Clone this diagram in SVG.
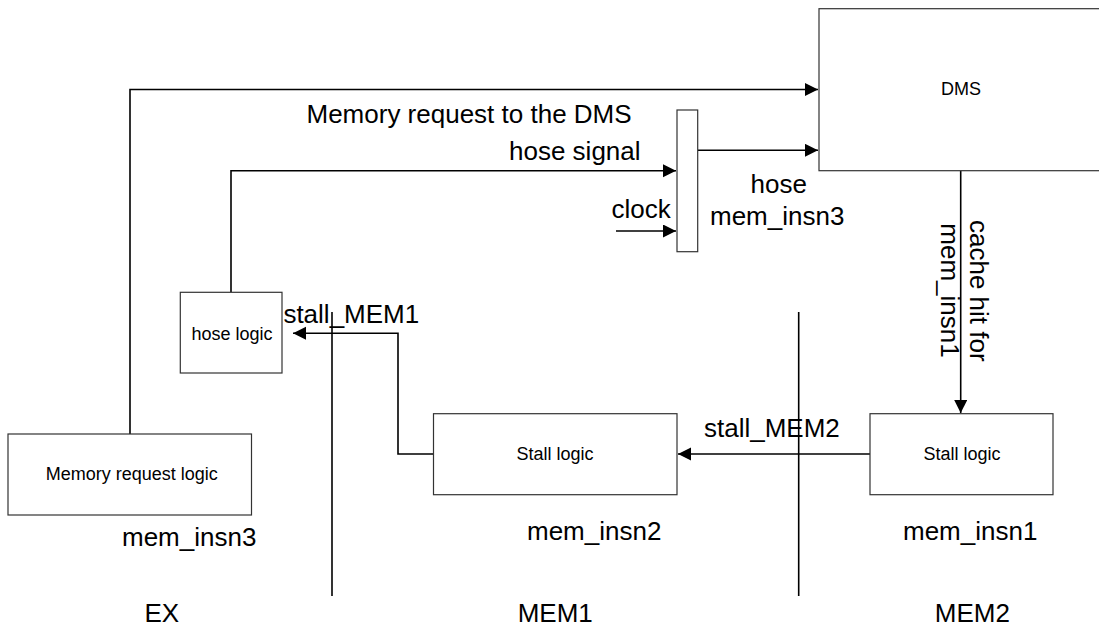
<svg xmlns="http://www.w3.org/2000/svg" width="1099" height="630" viewBox="0 0 1099 630">
<style>
.box{fill:#fff;stroke:#333;stroke-width:1.2}
.wire{fill:none;stroke:#000;stroke-width:1.6}
.big{font-family:"Liberation Sans",Arial,sans-serif;font-size:26px;fill:#000}
.small{font-family:"Liberation Sans",Arial,sans-serif;font-size:18px;fill:#000}
.mid{text-anchor:middle}
</style>
<defs>
<marker id="arr" markerUnits="userSpaceOnUse" markerWidth="14" markerHeight="14" refX="13" refY="6.5" orient="auto">
<path d="M0,0 L13,6.5 L0,13 z" fill="#000"/>
</marker>
</defs>
<rect width="1099" height="630" fill="#fff"/>

<g id="connectors">
<polyline class="wire" points="130,434 130,89.5 818,89.5" marker-end="url(#arr)"/>
<polyline class="wire" points="231,292 231,170.7 676,170.7" marker-end="url(#arr)"/>
<line class="wire" x1="616" y1="231" x2="676" y2="231" marker-end="url(#arr)"/>
<line class="wire" x1="698" y1="150.3" x2="818" y2="150.3" marker-end="url(#arr)"/>
<line class="wire" x1="960.7" y1="170.5" x2="960.7" y2="413" marker-end="url(#arr)"/>
<line class="wire" x1="870" y1="454" x2="678" y2="454" marker-end="url(#arr)"/>
<polyline class="wire" points="433,454 398,454 398,333.3 293,333.3" marker-end="url(#arr)"/>
</g>

<g id="dividers">
<line class="wire" x1="332" y1="312" x2="332" y2="596"/>
<line class="wire" x1="798.7" y1="312" x2="798.7" y2="596"/>
</g>

<g id="dms">
<rect class="box" x="819" y="8.7" width="290" height="162"/>
<text class="small mid" x="961" y="95">DMS</text>
</g>

<g id="latch">
<rect class="box" x="677" y="110" width="20.7" height="141.7"/>
</g>

<g id="hose-logic">
<rect class="box" x="180.3" y="292.3" width="101.7" height="80.7"/>
<text class="small mid" x="232" y="340">hose logic</text>
</g>

<g id="memory-request-logic">
<rect class="box" x="8" y="434" width="243.5" height="81"/>
<text class="small mid" x="131.7" y="480">Memory request logic</text>
</g>

<g id="stall-logic-mem1">
<rect class="box" x="433.5" y="413.7" width="243.5" height="81"/>
<text class="small mid" x="555" y="460">Stall logic</text>
</g>

<g id="stall-logic-mem2">
<rect class="box" x="870" y="413.7" width="183" height="81"/>
<text class="small mid" x="962" y="460">Stall logic</text>
</g>

<g id="labels">
<text class="big" x="306.5" y="123.3">Memory request to the DMS</text>
<text class="big" x="509" y="160">hose signal</text>
<text class="big" x="611.4" y="218.3">clock</text>
<text class="big" x="750.6" y="192.7">hose</text>
<text class="big" x="710" y="225">mem_insn3</text>
<text class="big" transform="translate(970,220) rotate(90)">cache hit for</text>
<text class="big" transform="translate(940.5,223.3) rotate(90)">mem_insn1</text>
<text class="big" x="283.4" y="322.7">stall_MEM1</text>
<text class="big" x="704" y="436.7">stall_MEM2</text>
<text class="big" x="122" y="545.7">mem_insn3</text>
<text class="big" x="527" y="540">mem_insn2</text>
<text class="big" x="903" y="540">mem_insn1</text>
<text class="big" x="144.5" y="621.7">EX</text>
<text class="big" x="517.7" y="621.7">MEM1</text>
<text class="big" x="934.8" y="621.7">MEM2</text>
</g>
</svg>
